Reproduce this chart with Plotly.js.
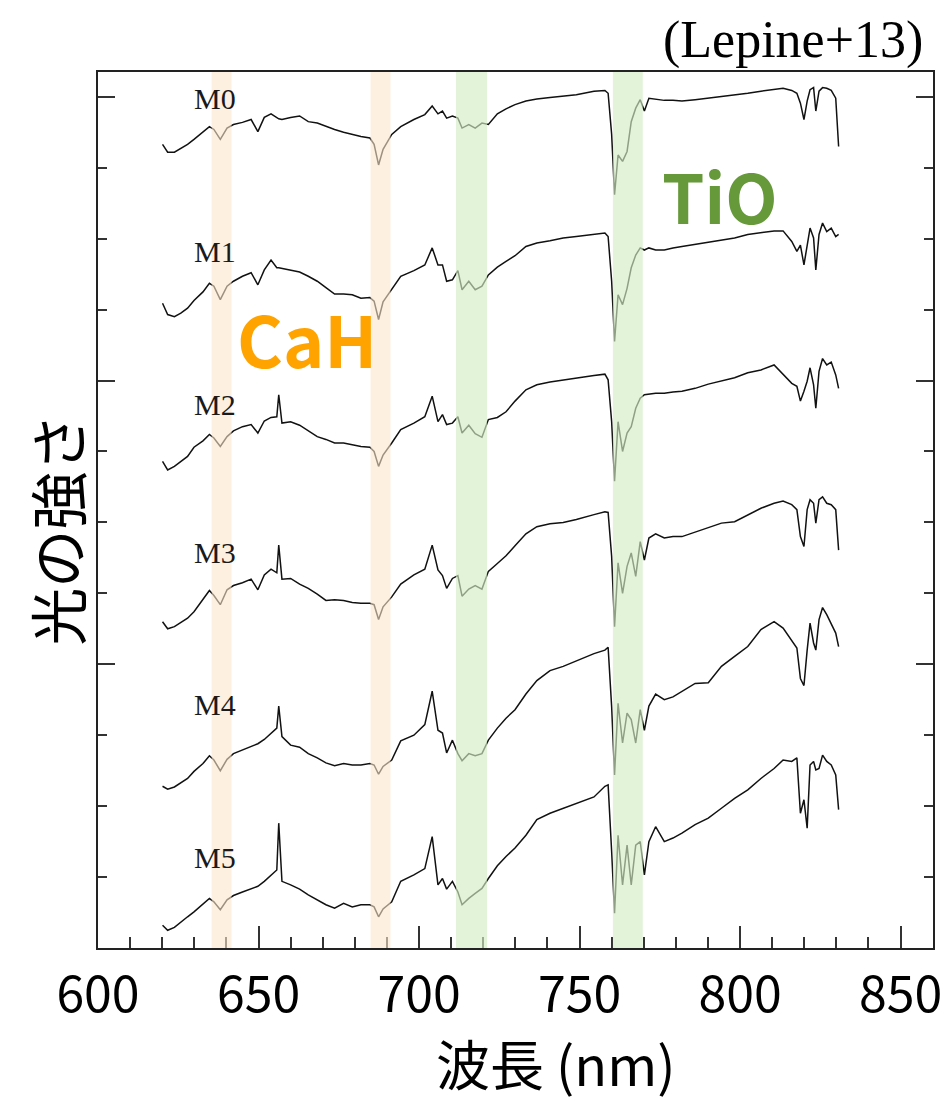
<!DOCTYPE html>
<html>
<head>
<meta charset="utf-8">
<script src="https://cdn.plot.ly/plotly-3.0.1.min.js"></script>
<style>
html, body { margin: 0; padding: 0; background: #ffffff; }
#chart { width: 946px; height: 1104px; }
</style>
</head>
<body>
<div id="chart"></div>
<script>
// Wavelength grid (nm), shared by all spectra
const wavelength = [
  620.1, 621.7, 623.8, 625.8, 627.9, 629.9, 632.7, 634.7, 636.1, 638.1,
  640.2, 642.2, 645.0, 647.7, 649.8, 651.8, 653.9, 655.7, 656.3, 657.3,
  660.0, 662.8, 665.5, 668.3, 671.0, 673.7, 676.5, 679.2, 681.9, 684.7,
  686.0, 687.4, 688.8, 691.5, 694.3, 698.4, 701.8, 704.1, 705.9, 707.3,
  708.6, 710.4, 712.1, 713.4, 715.5, 717.5, 719.6, 721.6, 724.4, 727.1,
  729.9, 733.3, 736.7, 740.8, 744.9, 749.0, 754.5, 757.9, 758.9, 760.0,
  760.9, 762.0, 763.4, 764.8, 766.1, 767.5, 768.9, 770.2, 771.6, 773.7,
  776.4, 779.1, 781.9, 786.0, 790.1, 794.2, 798.3, 802.4, 806.5, 810.6,
  813.4, 816.1, 817.7, 818.8, 819.9, 820.9, 821.8, 822.9, 823.6, 824.6,
  825.7, 827.0, 828.4, 829.8, 830.7
];

const spectralTypes = ['M0', 'M1', 'M2', 'M3', 'M4', 'M5'];

// Offset flux of each spectral type (arbitrary units, as stacked in the figure)
const fluxM0 = [
  11.33, 11.22, 11.22, 11.27, 11.33, 11.40, 11.50, 11.58, 11.54, 11.40,
  11.56, 11.61, 11.64, 11.68, 11.51, 11.71, 11.76, 11.70, 11.69, 11.68,
  11.71, 11.73, 11.65, 11.63, 11.58, 11.54, 11.50, 11.47, 11.44, 11.42,
  11.33, 11.04, 11.26, 11.47, 11.58, 11.68, 11.75, 11.87, 11.76, 11.80,
  11.70, 11.73, 11.70, 11.56, 11.61, 11.56, 11.63, 11.61, 11.76, 11.83,
  11.89, 11.94, 11.97, 11.99, 12.01, 12.03, 12.08, 12.09, 12.05, 11.47,
  10.62, 11.18, 11.09, 11.23, 11.65, 11.84, 11.96, 11.80, 11.98, 11.97,
  11.95, 11.95, 11.94, 11.96, 11.98, 12.01, 12.02, 12.05, 12.08, 12.10,
  12.12, 12.09, 12.05, 11.91, 11.68, 11.94, 12.10, 12.13, 11.80, 12.08,
  12.13, 12.12, 12.09, 11.98, 11.30
];
const fluxM1 = [
  9.09, 8.93, 8.90, 8.95, 9.02, 9.13, 9.25, 9.37, 9.33, 9.14,
  9.33, 9.40, 9.47, 9.52, 9.35, 9.56, 9.70, 9.59, 9.59, 9.58,
  9.56, 9.53, 9.47, 9.40, 9.31, 9.22, 9.22, 9.21, 9.16, 9.17,
  9.12, 8.86, 9.11, 9.28, 9.47, 9.55, 9.63, 9.87, 9.63, 9.63,
  9.40, 9.42, 9.55, 9.28, 9.40, 9.28, 9.33, 9.49, 9.60, 9.68,
  9.76, 9.89, 9.94, 9.97, 10.01, 10.03, 10.06, 10.08, 10.03, 9.40,
  8.55, 9.21, 9.07, 9.30, 9.59, 9.77, 9.87, 9.84, 9.87, 9.84,
  9.84, 9.87, 9.89, 9.92, 9.96, 9.99, 10.01, 10.06, 10.08, 10.11,
  10.11, 9.96, 9.82, 9.91, 9.63, 9.91, 10.15, 10.01, 9.56, 10.06,
  10.22, 10.10, 10.15, 10.03, 10.06
];
const fluxM2 = [
  6.86, 6.74, 6.79, 6.86, 6.93, 7.06, 7.15, 7.24, 7.19, 7.07,
  7.21, 7.29, 7.35, 7.38, 7.26, 7.43, 7.48, 7.49, 7.80, 7.40,
  7.42, 7.37, 7.29, 7.21, 7.17, 7.12, 7.12, 7.09, 7.07, 7.06,
  7.00, 6.79, 6.95, 7.12, 7.31, 7.40, 7.49, 7.78, 7.42, 7.52,
  7.38, 7.40, 7.49, 7.26, 7.37, 7.25, 7.20, 7.45, 7.48, 7.56,
  7.71, 7.87, 7.94, 7.98, 8.01, 8.04, 8.07, 8.09, 8.01, 7.42,
  6.58, 7.42, 7.00, 7.26, 7.35, 7.61, 7.75, 7.80, 7.81, 7.82,
  7.82, 7.84, 7.85, 7.89, 7.95, 8.00, 8.04, 8.11, 8.15, 8.22,
  8.08, 7.96, 7.92, 7.71, 7.85, 7.99, 8.18, 7.94, 7.61, 8.13,
  8.31, 8.22, 8.26, 8.08, 7.89
];
const fluxM3 = [
  4.60, 4.50, 4.53, 4.59, 4.65, 4.74, 4.91, 5.04, 4.97, 4.84,
  5.05, 5.11, 5.15, 5.20, 5.05, 5.26, 5.34, 5.29, 5.68, 5.20,
  5.21, 5.13, 5.07, 4.99, 4.90, 4.91, 4.90, 4.87, 4.86, 4.86,
  4.84, 4.63, 4.81, 4.95, 5.13, 5.26, 5.34, 5.68, 5.33, 5.25,
  5.07, 5.21, 5.25, 4.96, 5.06, 5.11, 5.06, 5.31, 5.42, 5.53,
  5.67, 5.84, 5.94, 5.98, 6.00, 6.04, 6.11, 6.15, 6.14, 5.52,
  4.53, 5.43, 5.00, 5.38, 5.57, 5.24, 5.73, 5.47, 5.78, 5.84,
  5.78, 5.80, 5.80, 5.86, 5.93, 5.99, 6.01, 6.11, 6.20, 6.27,
  6.30, 6.25, 6.18, 5.80, 5.66, 6.18, 6.32, 6.27, 5.99, 6.32,
  6.36, 6.27, 6.25, 6.18, 5.61
];
const fluxM4 = [
  2.28, 2.24, 2.27, 2.33, 2.39, 2.49, 2.60, 2.71, 2.65, 2.50,
  2.66, 2.74, 2.79, 2.84, 2.88, 2.94, 3.03, 3.10, 3.41, 2.98,
  2.86, 2.83, 2.74, 2.68, 2.61, 2.57, 2.60, 2.58, 2.58, 2.60,
  2.58, 2.45, 2.56, 2.65, 2.92, 3.00, 3.15, 3.62, 3.07, 3.03,
  2.75, 2.93, 2.74, 2.64, 2.74, 2.71, 2.74, 2.93, 3.10, 3.24,
  3.36, 3.58, 3.77, 3.91, 3.97, 4.05, 4.15, 4.20, 4.24, 3.40,
  2.44, 3.45, 2.89, 3.31, 3.22, 2.89, 3.36, 3.07, 3.41, 3.58,
  3.50, 3.54, 3.62, 3.73, 3.74, 3.97, 4.11, 4.25, 4.49, 4.60,
  4.51, 4.34, 4.23, 3.80, 3.70, 4.20, 4.58, 4.30, 4.20, 4.63,
  4.80, 4.70, 4.57, 4.44, 4.25
];
const fluxM5 = [
  0.32, 0.25, 0.29, 0.37, 0.44, 0.51, 0.62, 0.70, 0.65, 0.54,
  0.68, 0.74, 0.79, 0.84, 0.87, 0.94, 1.02, 1.10, 1.76, 0.94,
  0.89, 0.83, 0.75, 0.68, 0.61, 0.56, 0.63, 0.58, 0.61, 0.61,
  0.58, 0.44, 0.55, 0.65, 0.94, 1.03, 1.12, 1.57, 0.89, 0.98,
  0.83, 0.94, 0.79, 0.61, 0.70, 0.77, 0.84, 0.98, 1.16, 1.29,
  1.41, 1.59, 1.81, 1.90, 1.97, 2.04, 2.13, 2.28, 2.30, 1.36,
  0.49, 1.59, 0.89, 1.45, 0.89, 1.45, 1.50, 1.03, 1.50, 1.71,
  1.50, 1.55, 1.62, 1.74, 1.83, 1.97, 2.11, 2.23, 2.39, 2.53,
  2.65, 2.63, 2.68, 1.90, 2.09, 1.69, 2.58, 2.63, 2.51, 2.53,
  2.72, 2.63, 2.58, 2.44, 1.95
];

// Molecular absorption bands (nm)
const bandStart = [635.4, 684.9, 711.5, 760.4];
const bandEnd = [641.6, 691.1, 721.2, 769.7];
const bandMolecule = ['CaH', 'CaH', 'TiO', 'TiO'];

const seriesFlux = [fluxM0, fluxM1, fluxM2, fluxM3, fluxM4, fluxM5];

const traces = seriesFlux.map((f, i) => ({
  type: 'scatter',
  mode: 'lines',
  x: wavelength,
  y: f,
  name: spectralTypes[i],
  line: { color: '#111111', width: 1.5 },
  showlegend: false,
  hoverinfo: 'skip'
}));

const bandFill = { CaH: 'rgba(252, 230, 205, 0.6)', TiO: 'rgba(212, 236, 196, 0.65)' };
const shapes = bandStart.map((s, i) => ({
  type: 'rect', layer: 'above',
  xref: 'x', yref: 'paper',
  x0: s, x1: bandEnd[i], y0: 0, y1: 1,
  fillcolor: bandFill[bandMolecule[i]],
  line: { width: 0 }
}));

const labelY = [11.97, 9.82, 7.66, 5.57, 3.43, 1.27];
const annotations = spectralTypes.map((t, i) => ({
  text: t, x: 636.3, y: labelY[i], xref: 'x', yref: 'y',
  showarrow: false,
  font: { family: 'Liberation Serif, Times New Roman, serif', size: 30, color: '#1a1a1a' }
}));

annotations.push(
  { text: 'CaH', x: 665.0, y: 8.60, xref: 'x', yref: 'y', showarrow: false,
    font: { family: 'Noto Sans CJK JP, Noto Sans, sans-serif', size: 70, color: '#FFA300', weight: 700 } },
  { text: 'TiO', x: 793.7, y: 10.62, xref: 'x', yref: 'y', showarrow: false,
    font: { family: 'Noto Sans CJK JP, Noto Sans, sans-serif', size: 68, color: '#66993A', weight: 700 } },
  { text: '(Lepine+13)', x: 0.99, y: 1.037, xref: 'paper', yref: 'paper',
    xanchor: 'right', yanchor: 'middle', showarrow: false,
    font: { family: 'Liberation Serif, Times New Roman, serif', size: 52, color: '#000' } },
  { text: '波長 (nm)', x: 0.549, y: -0.1302, xref: 'paper', yref: 'paper',
    xanchor: 'center', yanchor: 'middle', showarrow: false,
    font: { family: 'Noto Sans CJK JP, sans-serif', size: 54, color: '#000' } },
  { text: '光の強さ', x: -0.0497, y: 0.477, xref: 'paper', yref: 'paper',
    xanchor: 'center', yanchor: 'middle', textangle: -90, showarrow: false,
    font: { family: 'Noto Sans CJK JP, sans-serif', size: 58, color: '#000' } }
);

const layout = {
  width: 946, height: 1104,
  margin: { l: 98, r: 13, t: 72, b: 156 },
  paper_bgcolor: '#ffffff', plot_bgcolor: '#ffffff',
  showlegend: false,
  font: { family: 'Noto Sans CJK JP, Noto Sans, sans-serif', color: '#000' },
  xaxis: {
    range: [600, 860.1], tick0: 600, dtick: 50,
    ticks: 'inside', ticklen: 22, tickwidth: 2, tickcolor: '#333',
    showline: true, linecolor: '#222', linewidth: 2, mirror: true,
    showgrid: false, zeroline: false,
    tickfont: { family: 'Noto Sans CJK JP, sans-serif', size: 50, color: '#000' },
    ticklabelstandoff: 2,
    minor: { tick0: 600, dtick: 10, ticks: 'inside', ticklen: 11, tickwidth: 2, tickcolor: '#333', showgrid: false }
  },
  yaxis: {
    range: [0, 12.35], tick0: 0, dtick: 4,
    ticks: 'inside', ticklen: 17, tickwidth: 2, tickcolor: '#333',
    showticklabels: false,
    showline: true, linecolor: '#222', linewidth: 2, mirror: 'ticks',
    showgrid: false, zeroline: false,
    minor: { tick0: 0, dtick: 1, ticks: 'inside', ticklen: 9, tickwidth: 2, tickcolor: '#333', showgrid: false }
  },
  shapes: shapes,
  annotations: annotations
};

Plotly.newPlot('chart', traces, layout, { displayModeBar: false, staticPlot: true });
</script>
</body>
</html>
